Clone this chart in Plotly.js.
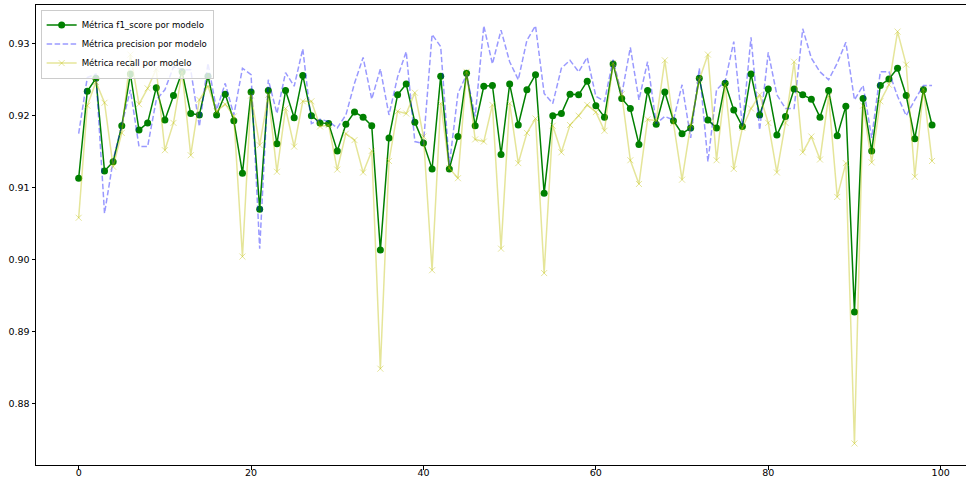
<!DOCTYPE html>
<html>
<head>
<meta charset="utf-8">
<script src="https://cdn.plot.ly/plotly-3.0.1.min.js"></script>
<style>html,body{margin:0;padding:0;background:#fff;}#chart{width:966px;height:479px;}</style>
</head>
<body>
<div id="chart"></div>
<script>
const modelIndex = Array.from({length: 100}, (_, i) => i);

const f1Score = [
  0.9113, 0.9234, 0.9252, 0.9123, 0.9136, 0.9186, 0.9258, 0.9180, 0.9190, 0.9239,
  0.9194, 0.9228, 0.9261, 0.9203, 0.9201, 0.9255, 0.9201, 0.9230, 0.9193, 0.9120,
  0.9233, 0.9070, 0.9235, 0.9161, 0.9235, 0.9197, 0.9256, 0.9200, 0.9190, 0.9189,
  0.9151, 0.9188, 0.9205, 0.9198, 0.9186, 0.9013, 0.9169, 0.9229, 0.9244, 0.9191,
  0.9162, 0.9126, 0.9255, 0.9126, 0.9171, 0.9259, 0.9186, 0.9241, 0.9242, 0.9146,
  0.9244, 0.9187, 0.9236, 0.9257, 0.9092, 0.9200, 0.9203, 0.9230, 0.9229, 0.9248,
  0.9214, 0.9198, 0.9272, 0.9224, 0.9210, 0.9160, 0.9235, 0.9188, 0.9233, 0.9193,
  0.9175, 0.9183, 0.9252, 0.9194, 0.9183, 0.9245, 0.9208, 0.9185, 0.9258, 0.9201,
  0.9237, 0.9173, 0.9199, 0.9237, 0.9229, 0.9223, 0.9198, 0.9235, 0.9172, 0.9213,
  0.8927, 0.9224, 0.9151, 0.9242, 0.9251, 0.9266, 0.9228, 0.9168, 0.9236, 0.9187
];

const precision = [
  0.9175, 0.9253, 0.9258, 0.9064, 0.9138, 0.9187, 0.9236, 0.9157, 0.9157, 0.9222,
  0.9236, 0.9268, 0.9264, 0.9264, 0.9185, 0.9273, 0.9208, 0.9245, 0.9201, 0.9266,
  0.9257, 0.9015, 0.9250, 0.9203, 0.9260, 0.9241, 0.9293, 0.9189, 0.9195, 0.9192,
  0.9183, 0.9201, 0.9245, 0.9281, 0.9223, 0.9265, 0.9201, 0.9254, 0.9289, 0.9164,
  0.9161, 0.9313, 0.9296, 0.9131, 0.9231, 0.9257, 0.9199, 0.9325, 0.9272, 0.9319,
  0.9275, 0.9250, 0.9305, 0.9325, 0.9231, 0.9217, 0.9266, 0.9277, 0.9261, 0.9281,
  0.9227, 0.9220, 0.9278, 0.9229, 0.9295, 0.9222, 0.9275, 0.9189, 0.9199, 0.9194,
  0.9243, 0.9169, 0.9266, 0.9136, 0.9236, 0.9248, 0.9303, 0.9185, 0.9309, 0.9180,
  0.9288, 0.9229, 0.9210, 0.9210, 0.9321, 0.9280, 0.9261, 0.9250, 0.9273, 0.9302,
  0.9222, 0.9242, 0.9169, 0.9261, 0.9261, 0.9227, 0.9200, 0.9222, 0.9242, 0.9242
];

const recall = [
  0.9058, 0.9214, 0.9247, 0.9218, 0.9129, 0.9176, 0.9285, 0.9216, 0.9238, 0.9265,
  0.9152, 0.9190, 0.9261, 0.9145, 0.9222, 0.9241, 0.9206, 0.9216, 0.9199, 0.9004,
  0.9228, 0.9159, 0.9229, 0.9122, 0.9210, 0.9157, 0.9220, 0.9220, 0.9185, 0.9187,
  0.9125, 0.9175, 0.9166, 0.9121, 0.9151, 0.8848, 0.9137, 0.9206, 0.9203, 0.9232,
  0.9171, 0.8985, 0.9217, 0.9127, 0.9113, 0.9261, 0.9167, 0.9164, 0.9215, 0.9015,
  0.9217, 0.9134, 0.9176, 0.9196, 0.8981, 0.9186, 0.9149, 0.9187, 0.9200, 0.9215,
  0.9205, 0.9179, 0.9273, 0.9230, 0.9138, 0.9105, 0.9195, 0.9193, 0.9277, 0.9190,
  0.9111, 0.9187, 0.9250, 0.9285, 0.9138, 0.9243, 0.9126, 0.9183, 0.9210, 0.9229,
  0.9190, 0.9121, 0.9190, 0.9275, 0.9149, 0.9171, 0.9139, 0.9227, 0.9087, 0.9134,
  0.8744, 0.9214, 0.9135, 0.9220, 0.9243, 0.9317, 0.9271, 0.9115, 0.9237, 0.9137
];

const seriesNames = [
  'Métrica f1_score por modelo',
  'Métrica precision por modelo',
  'Métrica recall por modelo'
];

const traces = [
  {
    x: modelIndex, y: f1Score, name: seriesNames[0],
    type: 'scatter', mode: 'lines+markers',
    line: {color: '#008000', width: 1.5},
    marker: {color: '#008000', size: 7, symbol: 'circle'}
  },
  {
    x: modelIndex, y: precision, name: seriesNames[1],
    type: 'scatter', mode: 'lines',
    line: {color: 'rgba(0,0,255,0.4)', width: 1.5, dash: '5.5px,2.5px'}
  },
  {
    x: modelIndex, y: recall, name: seriesNames[2],
    type: 'scatter', mode: 'lines+markers',
    line: {color: 'rgba(191,191,0,0.4)', width: 1.5},
    marker: {color: 'rgba(191,191,0,0.4)', size: 6, symbol: 'x-thin', line: {color: 'rgba(191,191,0,0.4)', width: 1}}
  }
];

const layout = {
  width: 966, height: 479,
  margin: {l: 36, r: 0, t: 5, b: 14},
  paper_bgcolor: '#ffffff', plot_bgcolor: '#ffffff',
  font: {family: 'DejaVu Sans', size: 9.5, color: '#000'},
  showlegend: true,
  legend: {
    x: 0.005, y: 0.99, xanchor: 'left', yanchor: 'top',
    bgcolor: 'rgba(255,255,255,0.8)', bordercolor: '#cccccc', borderwidth: 1,
    font: {family: 'DejaVu Sans', size: 8.6, color: '#000'},
    itemwidth: 30, tracegroupgap: 0
  },
  xaxis: {
    range: [-4.95, 102.94], tickmode: 'linear', tick0: 0, dtick: 20,
    showgrid: false, zeroline: false,
    showline: true, linecolor: '#000', linewidth: 1, mirror: true,
    ticks: 'outside', ticklen: 3.5, tickwidth: 1, tickcolor: '#000',
    ticklabelstandoff: -5
  },
  yaxis: {
    range: [0.8714, 0.9354], tickmode: 'linear', tick0: 0.88, dtick: 0.01,
    tickformat: '.2f',
    showgrid: false, zeroline: false,
    showline: true, linecolor: '#000', linewidth: 1, mirror: false,
    ticks: 'outside', ticklen: 3.5, tickwidth: 1, tickcolor: '#000'
  }
};

Plotly.newPlot('chart', traces, layout, {displayModeBar: false, staticPlot: true});
</script>
</body>
</html>
